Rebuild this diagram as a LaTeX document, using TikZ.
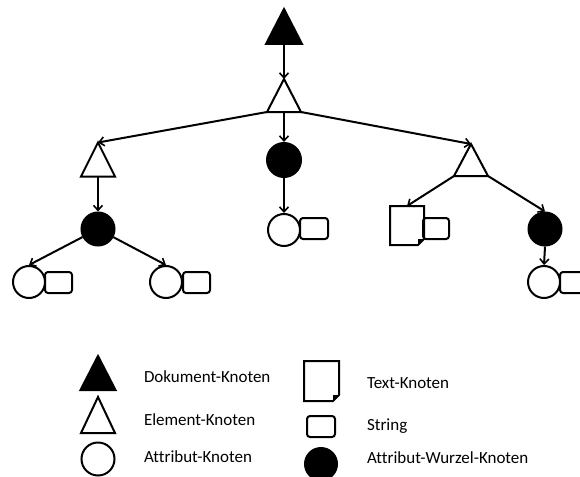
\documentclass[tikz,border=0pt]{standalone}
\usepackage{fontspec}
\setmainfont[Ligatures=NoCommon]{Carlito}
\usetikzlibrary{arrows.meta}
\begin{document}
\begin{tikzpicture}[x=1pt,y=-1pt,
  line width=2pt,
  arr/.style={-{Straight Barb[length=5pt,width=9pt,line width=1.6pt]}},
  tri/.style={rectangle,inner sep=0pt,minimum width=32pt,minimum height=32pt},
  attr/.style={circle,draw,inner sep=0pt,minimum size=32pt},
  root/.style={circle,draw,fill=black,inner sep=0pt,minimum size=33pt},
  str/.style={rectangle,draw,rounded corners=3pt,inner sep=0pt,minimum width=27pt,minimum height=21pt},
  txt/.style={rectangle,inner sep=0pt,minimum width=32pt,minimum height=37pt},
  lbl/.style={anchor=west,inner sep=0pt,font=\fontsize{17}{20}\selectfont}]
\useasboundingbox (0,0) rectangle (580,476);

% triangles are drawn from the anchors of invisible boxes
\newcommand{\drawtri}[2][]{\draw[line join=miter,#1] (#2.north) -- (#2.south west) -- (#2.south east) -- cycle;}
\newcommand{\drawdoc}[1]{%
  \draw[line join=miter] (#1.north west) -- (#1.north east) -- ([yshift=6pt]#1.south east)
    -- ([xshift=-6pt]#1.south east) -- (#1.south west) -- cycle;
  \fill ([yshift=6pt]#1.south east) -- ([xshift=-6pt,yshift=6pt]#1.south east) -- ([xshift=-6pt]#1.south east) -- cycle;}

% tree
\node[tri,minimum width=34pt,minimum height=33pt] (doc) at (284,26.5) {};
\node[tri,minimum height=31pt] (el) at (284,95.5) {};
\node[tri] (elL) at (98,159.5) {};
\node[tri,minimum height=30pt] (elR) at (471,160) {};
\drawtri[fill=black]{doc}
\drawtri{el}
\drawtri{elL}
\drawtri{elR}

\node[root,minimum size=34pt] (rM) at (284,160) {};
\node[attr] (aM) at (284,230) {};
\node[str,minimum width=28pt] (sM) at (314,228.5) {};

\node[root] (rL) at (98,229) {};
\node[attr] (aL1) at (29,282) {};
\node[str] (sL1) at (58.5,282.5) {};
\node[attr] (aL2) at (166,282) {};
\node[str] (sL2) at (196.5,282.5) {};

\node[txt] (tx) at (407,225.5) {};
\drawdoc{tx}
\node[str,minimum width=26pt] (sT) at (436,228.5) {};

\node[root] (rR) at (545,229) {};
\node[attr] (aR) at (544,282) {};
\node[str] (sR) at (573.5,282.5) {};

% connectors
\draw[arr] (doc.south) -- (el.north);
\draw[arr] (el.south west) -- (elL.north);
\draw[arr] (el.south) -- (rM.north);
\draw[arr] (el.south east) -- (elR.north);
\draw[arr] (rM.south) -- (aM.north);
\draw[arr] (elL.south) -- (rL.north);
\draw[arr] (rL) -- (aL1.north);
\draw[arr] (rL) -- (aL2.north);
\draw[arr] (elR.south west) -- (tx.north);
\draw[arr] (elR.south east) -- (rR.north);
\draw[arr] (rR.south) -- (aR.north);

% legend
\node[tri,minimum width=33pt] (kDoc) at (98,373) {};
\drawtri[fill=black]{kDoc}
\node[lbl] (lDoc) at (143,377) {Dokument-Knoten};
\node[tri,minimum height=34pt] (kEl) at (98,415) {};
\drawtri{kEl}
\node[lbl] (lEl) at (143,420) {Element-Knoten};
\node[attr,minimum size=33pt] (kAt) at (98,459) {};
\node[lbl] (lAt) at (143,457) {Attribut-Knoten};

\node[txt,minimum width=33pt,minimum height=38pt] (kTx) at (321.5,381) {};
\drawdoc{kTx}
\node[lbl] (lTx) at (366,383) {Text-Knoten};
\node[str,minimum width=28pt] (kStr) at (321,426.5) {};
\node[lbl] (lStr) at (366,426) {String};
\node[root,minimum size=32pt] (kRt) at (321,464) {};
\node[lbl] (lRt) at (366,458) {Attribut-Wurzel-Knoten};
\end{tikzpicture}
\end{document}
